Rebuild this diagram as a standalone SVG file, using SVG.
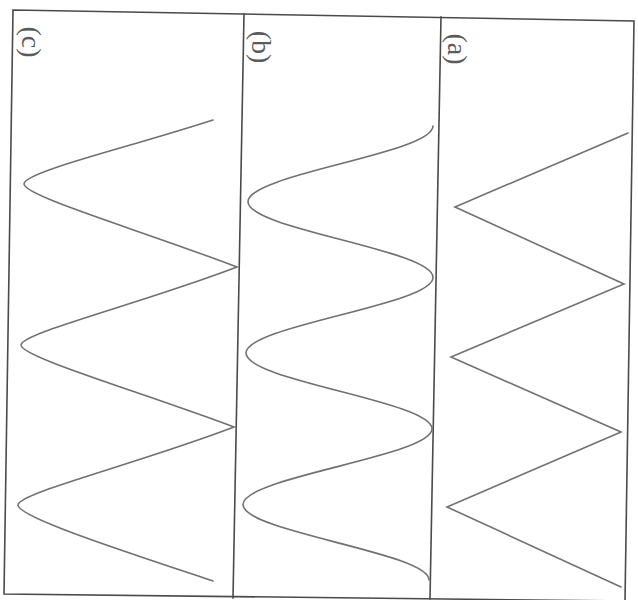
<svg xmlns="http://www.w3.org/2000/svg" width="638" height="600" viewBox="0 0 638 600">
  <style>
    .frame { fill: none; stroke: #4a4a4a; stroke-width: 1.6; stroke-linecap: square; }
    .wave { fill: none; stroke: #707070; stroke-width: 1.6; stroke-linejoin: miter; stroke-linecap: round; }
    .lbl { font-family: "Liberation Serif", "DejaVu Serif", serif; font-size: 28px; fill: #5a5a5a; text-anchor: middle; }
  </style>
  <rect x="0" y="0" width="638" height="600" fill="#ffffff"/>
  <g id="frame">
    <path class="frame" d="M13,10 L634,21 L625,601 L4,594 Z"/>
    <path class="frame" d="M244,14 L233,598"/>
    <path class="frame" d="M441,17 L430,599"/>
  </g>
  <g id="panel-c">
    <text class="lbl" transform="translate(22,42) rotate(90)">(c)</text>
    <path class="wave" d="M213,120 C120,150 24,172 24,184 C24,196 140,230 237,267 C140,304 21,333 21,345 C21,357 138,391 234,427 C137,464 18,493 18,505 C18,517 120,550 213,581"/>
  </g>
  <g id="panel-b">
    <text class="lbl" transform="translate(252,47) rotate(90)">(b)</text>
    <path class="wave" d="M433,126 C433,153.5 248,174.2 248,201.7 C248,229.2 433,249.9 433,277.4 C433,304.9 246,325.6 246,353.1 C246,380.6 432,401.3 432,428.8 C432,456.3 243,477 243,504.5 C243,532 429,552.7 429,580"/>
  </g>
  <g id="panel-a">
    <text class="lbl" transform="translate(448,49) rotate(90)">(a)</text>
    <polyline class="wave" points="628,133 455,207 624,284 451,357 621,432 447,507 621,587"/>
  </g>
</svg>
